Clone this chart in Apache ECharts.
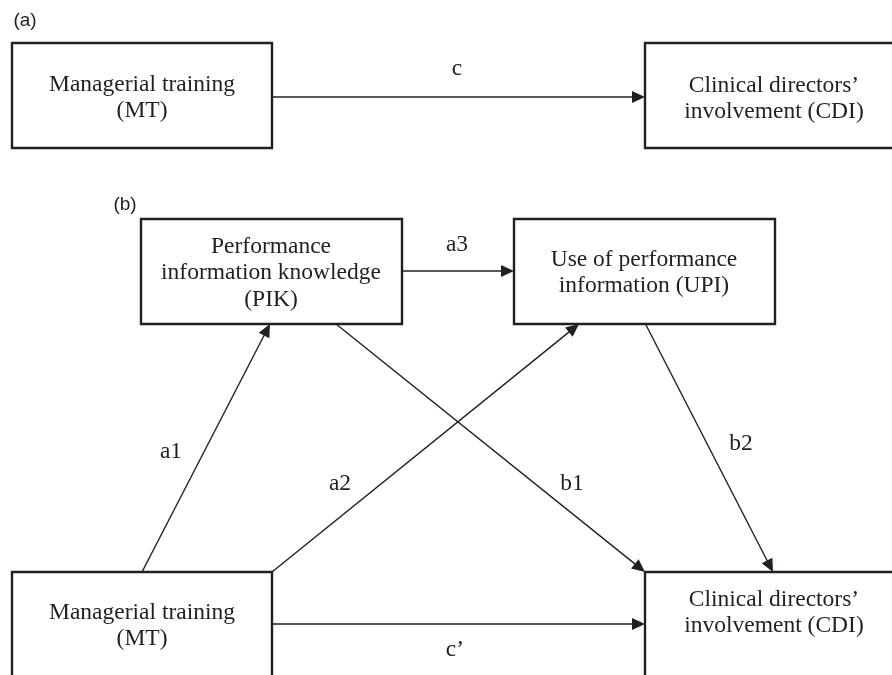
<!DOCTYPE html>
<html>
<head>
<meta charset="utf-8">
<title>MT - CDI mediation model</title>
<script src="https://cdn.jsdelivr.net/npm/echarts@6/dist/echarts.min.js"></script>
<style>
html,body{margin:0;padding:0;background:#fff;}
#chartsBox{width:892px;height:675px;}
</style>
</head>
<body>
<div id="chartsBox"></div>
<script>
// boxes: corners in diagram units, text and where the text block sits
var boxNames=['MT_a','CDI_a','PIK','UPI','MT_b','CDI_b'];
var boxX0=[12,645,141,514,12,645];
var boxY0=[43,43,219,219,572,572];
var boxX1=[272,910,402,775,272,910];
var boxY1=[148,148,324,324,700,700];
var boxTextX=[142,774,271,644,142,774];
var boxTextY=[98,99,273,273,626,613];
var boxText=[
	'Managerial training\n(MT)',
	'Clinical directors\u2019\ninvolvement (CDI)',
	'Performance\ninformation knowledge\n(PIK)',
	'Use of performance\ninformation (UPI)',
	'Managerial training\n(MT)',
	'Clinical directors\u2019\ninvolvement (CDI)'
];
// paths: from (x0,y0) to (x1,y1)
var pathNames=['c','a3','a1','a2','b1','b2','c\u2019'];
var pathX0=[272,402,142,272,336,645,272];
var pathY0=[97,271,572,572,324,323,624];
var pathX1=[645,514,270,579,645,773,645];
var pathY1=[97,271,324,324,572,572,624];
// path labels
var labelX=[457,457,171,340,572,741,455];
var labelY=[69,245,452,484,484,444,650];
// panel tags
var panelNames=['(a)','(b)'];
var panelX=[25,125];
var panelY=[21,205];

var inkColor='#231f20';
var serifFont='23.5px "Liberation Serif", "Times New Roman", serif';

var boxData=[];
for(var i=0;i<boxNames.length;i++){
	boxData.push({name:boxNames[i],value:[boxX0[i],boxY0[i],boxX1[i],boxY1[i],boxTextX[i],boxTextY[i]],txt:boxText[i]});
}
var pathData=[];
for(var i=0;i<pathNames.length;i++){
	pathData.push({name:pathNames[i],value:[pathX0[i],pathY0[i],pathX1[i],pathY1[i]]});
}
var labelData=[];
for(var i=0;i<pathNames.length;i++){
	labelData.push({name:pathNames[i],value:[labelX[i],labelY[i]]});
}
var panelData=[];
for(var i=0;i<panelNames.length;i++){
	panelData.push({name:panelNames[i],value:[panelX[i],panelY[i]]});
}

var chartsBox=echarts.init(document.getElementById('chartsBox'));
var option={
	animation:false,
	grid:{left:0,right:0,top:0,bottom:0},
	xAxis:{type:'value',min:0,max:892,show:false},
	yAxis:{type:'value',min:0,max:675,inverse:true,show:false},
	series:[{
		//方框
		type:'custom',
		coordinateSystem:'cartesian2d',
		clip:false,
		data:boxData,
		renderItem:function(params,api){
			var p0=api.coord([api.value(0),api.value(1)]);
			var p1=api.coord([api.value(2),api.value(3)]);
			var pt=api.coord([api.value(4),api.value(5)]);
			return {
				type:'group',
				children:[{
					type:'rect',
					shape:{x:p0[0],y:p0[1],width:p1[0]-p0[0],height:p1[1]-p0[1]},
					style:{fill:'#fff',stroke:inkColor,lineWidth:2.4}
				},{
					type:'text',
					style:{
						text:boxData[params.dataIndex].txt,
						x:pt[0],y:pt[1],
						align:'center',verticalAlign:'middle',
						font:serifFont,lineHeight:26.5,fill:inkColor
					}
				}]
			};
		}
	},{
		//箭头
		type:'custom',
		coordinateSystem:'cartesian2d',
		clip:false,
		data:pathData,
		renderItem:function(params,api){
			var p0=api.coord([api.value(0),api.value(1)]);
			var p1=api.coord([api.value(2),api.value(3)]);
			var dx=p1[0]-p0[0],dy=p1[1]-p0[1];
			var len=Math.sqrt(dx*dx+dy*dy);
			var ux=dx/len,uy=dy/len;
			var headL=13,headW=6;
			var bx=p1[0]-ux*headL,by=p1[1]-uy*headL;
			return {
				type:'group',
				children:[{
					type:'line',
					shape:{x1:p0[0],y1:p0[1],x2:bx+ux*2,y2:by+uy*2},
					style:{stroke:inkColor,lineWidth:1.4}
				},{
					type:'polygon',
					shape:{points:[[p1[0],p1[1]],[bx-uy*headW,by+ux*headW],[bx+uy*headW,by-ux*headW]]},
					style:{fill:inkColor}
				}]
			};
		}
	},{
		//路径标签
		type:'scatter',
		symbolSize:0,
		data:labelData,
		itemStyle:{opacity:1},
		label:{
			show:true,position:'inside',formatter:'{b}',
			color:inkColor,fontFamily:'"Liberation Serif", "Times New Roman", serif',fontSize:23.5
		},
		silent:true
	},{
		type:'scatter',
		symbolSize:0,
		data:panelData,
		itemStyle:{opacity:1},
		label:{
			show:true,position:'inside',formatter:'{b}',
			color:inkColor,fontFamily:'"Liberation Sans", Arial, sans-serif',fontSize:19
		},
		silent:true
	}]
};
chartsBox.setOption(option);
</script>
</body>
</html>
